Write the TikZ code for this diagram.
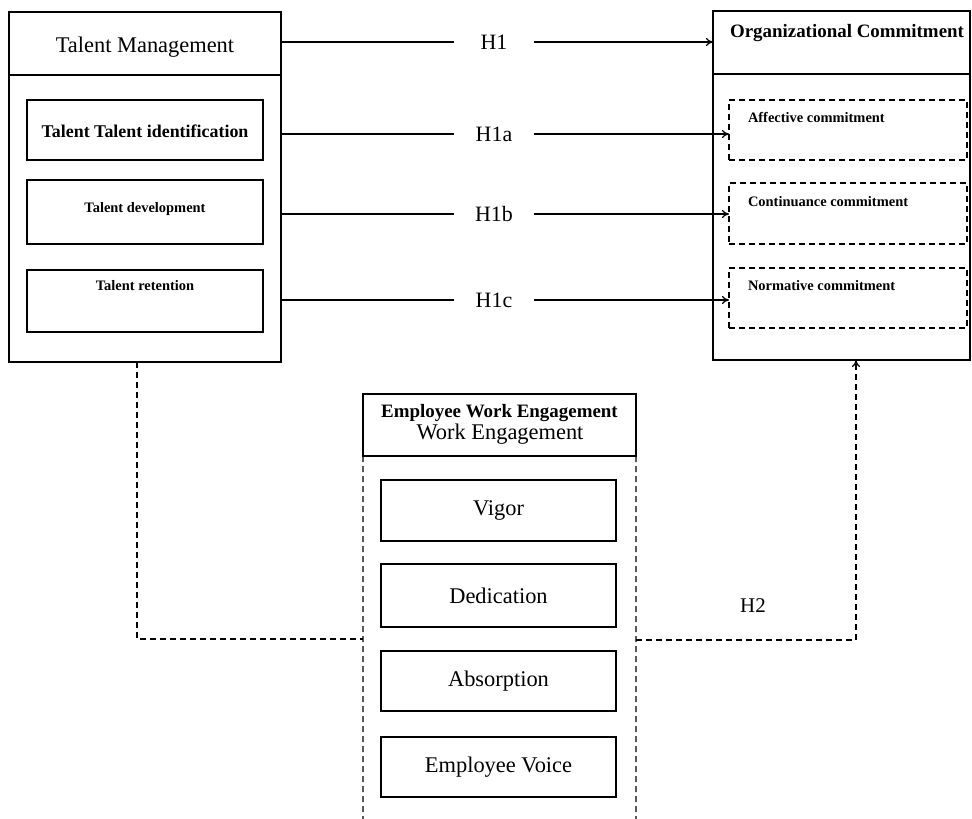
\documentclass[tikz,border=0pt]{standalone}
\usepackage{fontspec}
\setmainfont{Liberation Serif}
\usetikzlibrary{arrows.meta}
\begin{document}
\begin{tikzpicture}[x=1bp,y=-1bp,
  every node/.style={inner sep=0pt,outer sep=0pt},
  solidbox/.style={draw,line width=1.3bp,rectangle,anchor=center},
  dashbox/.style={draw,line width=1.3bp,rectangle,anchor=center,dash pattern=on 6bp off 4bp},
  dashline/.style={line width=1.3bp,dash pattern=on 6bp off 4bp},
  conn/.style={line width=1.3bp},
  arr/.style={line width=1.3bp,-{To[length=7bp,width=8bp]}},
  hlabel/.style={font=\fontsize{22}{24}\selectfont,minimum width=80bp,inner ysep=2bp},
  bigtxt/.style={font=\fontsize{22.5}{24}\selectfont},
  smallbold/.style={font=\bfseries\fontsize{14.5}{16}\selectfont},
]
\useasboundingbox (0,0) rectangle (972,819);

% ---- Talent Management ----
\node[solidbox,minimum width=272bp,minimum height=63bp] (tmh) at (145,43.5) {};
\node[solidbox,minimum width=272bp,minimum height=287bp] (tmb) at (145,218.5) {};
\draw[line width=2bp] (tmh.south west) -- (tmh.south east);
\node[bigtxt] (tmt) at (145,47) {Talent Management};
\node[solidbox,minimum width=236bp,minimum height=60bp] (ti) at (145,130) {};
\node[font=\bfseries\fontsize{18}{20}\selectfont] (tit) at (145,131) {Talent Talent identification};
\node[solidbox,minimum width=236bp,minimum height=64bp] (td) at (145,212) {};
\node[smallbold] (tdt) at (145,209) {Talent development};
\node[solidbox,minimum width=236bp,minimum height=62bp] (tr) at (145,301) {};
\node[smallbold] (trt) at (145,286) {Talent retention};

% ---- Organizational Commitment ----
\node[solidbox,minimum width=257bp,minimum height=63bp] (och) at (841.5,42.5) {};
\node[solidbox,minimum width=257bp,minimum height=286bp] (ocb) at (841.5,217) {};
\node[font=\bfseries\fontsize{19}{21}\selectfont] (oct) at (847,33) {Organizational Commitment};
\node[dashbox,minimum width=238bp,minimum height=60bp] (ac) at (848,130) {};
\node[smallbold,anchor=west] (act) at (748,117) {Affective commitment};
\node[dashbox,minimum width=238bp,minimum height=61bp] (cc) at (848,213.5) {};
\node[smallbold,anchor=west] (cct) at (748,202) {Continuance commitment};
\node[dashbox,minimum width=238bp,minimum height=60bp] (nc) at (848,298) {};
\node[smallbold,anchor=west] (nct) at (748,286) {Normative commitment};

% ---- Employee Work Engagement ----
\node[solidbox,minimum width=273bp,minimum height=62bp] (weh) at (499.5,425) {};
\node[font=\bfseries\fontsize{19}{20}\selectfont] (wet1) at (499.5,413) {Employee Work Engagement};
\node[bigtxt] (wet2) at (500,434) {Work Engagement};
\coordinate (wel) at (363,819);
\coordinate (wer) at (636,819);
\draw[dashline] (weh.south west) -- (wel);
\draw[dashline] (weh.south east) -- (wer);
\node[solidbox,bigtxt,minimum width=235bp,minimum height=61bp] (vig) at (498.5,510.5) {Vigor};
\node[solidbox,bigtxt,minimum width=235bp,minimum height=63bp] (ded) at (498.5,595.5) {Dedication};
\node[solidbox,bigtxt,minimum width=235bp,minimum height=60bp] (abs) at (498.5,681) {Absorption};
\node[solidbox,bigtxt,minimum width=235bp,minimum height=60bp] (voi) at (498.5,767) {Employee Voice};

% ---- Hypothesis connectors ----
\node[hlabel] (h1) at (494,42) {H1};
\node[hlabel] (h1a) at (494,134) {H1a};
\node[hlabel] (h1b) at (494,214) {H1b};
\node[hlabel] (h1c) at (494,300) {H1c};
\draw[conn] (tmh.east |- h1) -- (h1.west);
\draw[arr] (h1.east) -- (h1 -| och.west);
\draw[conn] (tmb.east |- h1a) -- (h1a.west);
\draw[arr] (h1a.east) -- (h1a -| ac.west);
\draw[conn] (tmb.east |- h1b) -- (h1b.west);
\draw[arr] (h1b.east) -- (h1b -| cc.west);
\draw[conn] (tmb.east |- h1c) -- (h1c.west);
\draw[arr] (h1c.east) -- (h1c -| nc.west);

% ---- H2 mediation path ----
\coordinate (lb) at (137,362);
\coordinate (lc) at (137,639);
\coordinate (ml) at (363,639);
\coordinate (mr) at (636,640);
\coordinate (rc) at (856,640);
\coordinate (rt) at (856,360);
\draw[dashline] (lb) -- (lc) -- (ml);
\draw[dashline,-{To[length=7bp,width=8bp]}] (mr) -- (rc) -- (rt);
\node[font=\fontsize{21}{23}\selectfont] (h2) at (753,606) {H2};
\end{tikzpicture}
\end{document}
